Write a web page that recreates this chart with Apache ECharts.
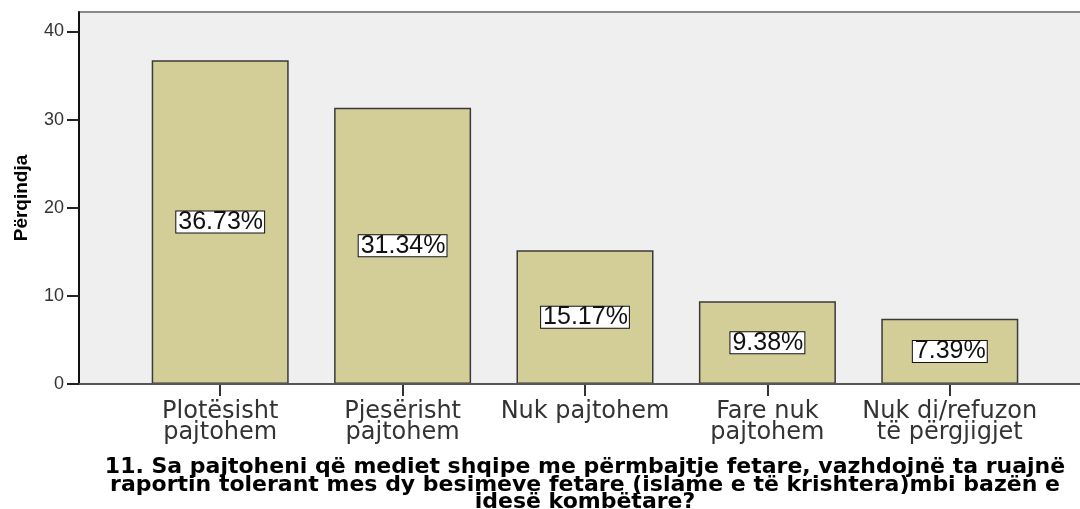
<!DOCTYPE html>
<html>
<head>
<meta charset="utf-8">
<title>Përqindja</title>
<script src="https://cdn.jsdelivr.net/npm/echarts@6/dist/echarts.min.js"></script>
<style>
  html, body { margin: 0; padding: 0; background: #fff; }
  #chart { width: 1080px; height: 509px; }
</style>
</head>
<body>
<div id="chart"></div>
<script>
// categories on the x axis
const categories = [
  'Plotësisht\npajtohem',
  'Pjesërisht\npajtohem',
  'Nuk pajtohem',
  'Fare nuk\npajtohem',
  'Nuk di/refuzon\ntë përgjigjet'
];
// percentages per category
const percentValues = [36.73, 31.34, 15.17, 9.38, 7.39];
// y axis tick labels
const yTicks = [0, 10, 20, 30, 40];

const yAxisName = 'Përqindja';
const xAxisName = '11. Sa pajtoheni që mediet shqipe me përmbajtje fetare, vazhdojnë ta ruajnë\n' +
  'raportin tolerant mes dy besimeve fetare (islame e të krishtera)mbi bazën e\n' +
  'idesë kombëtare?';

// plot frame geometry (pixels)
const frame = { left: 79, top: 12, bottom: 384, right: 1090 };

const chart = echarts.init(document.getElementById('chart'), null, { renderer: 'canvas' });

const option = {
  animation: false,
  backgroundColor: '#ffffff',
  grid: {
    left: 129,
    right: 39,
    top: frame.top,
    bottom: 509 - frame.bottom,
    // keep the grid where it is, the long axis name may overflow
    outerBoundsMode: 'none',
    containLabel: false
  },
  // grey panel behind the bars plus frame lines (SPSS look)
  graphic: [
    {
      type: 'rect',
      z: -10,
      shape: { x: frame.left, y: frame.top, width: frame.right - frame.left, height: frame.bottom - frame.top },
      style: { fill: '#efefef' }
    },
    {
      type: 'line',
      z: -5,
      shape: { x1: frame.left, y1: frame.top, x2: frame.right, y2: frame.top },
      style: { stroke: '#8a8a8a', lineWidth: 2 }
    },
    {
      type: 'line',
      z: 50,
      shape: { x1: frame.left, y1: frame.bottom, x2: frame.right, y2: frame.bottom },
      style: { stroke: '#555', lineWidth: 2 }
    }
  ],
  xAxis: {
    type: 'category',
    data: categories,
    name: xAxisName,
    nameLocation: 'middle',
    nameGap: 75,
    nameTextStyle: {
      fontFamily: 'DejaVu Sans',
      fontWeight: 'bold',
      fontSize: 22,
      lineHeight: 17.5,
      color: '#000',
      align: 'center'
    },
    axisLine: { show: false },
    axisTick: {
      show: true,
      alignWithLabel: true,
      length: 12,
      lineStyle: { color: '#333', width: 2 }
    },
    axisLabel: {
      margin: 17,
      fontFamily: 'DejaVu Sans',
      fontSize: 24,
      lineHeight: 21,
      color: '#333',
      interval: 0
    },
    splitLine: { show: false }
  },
  yAxis: {
    type: 'value',
    min: 0,
    max: 42.2,
    interval: 10,
    offset: 50,
    name: yAxisName,
    nameLocation: 'middle',
    nameGap: 48,
    nameRotate: 90,
    nameTextStyle: {
      fontFamily: 'Liberation Sans',
      fontWeight: 'bold',
      fontSize: 19,
      color: '#000'
    },
    axisLine: { show: true, lineStyle: { color: '#111', width: 2 } },
    axisTick: {
      show: true,
      length: 12,
      customValues: yTicks,
      lineStyle: { color: '#222', width: 2 }
    },
    axisLabel: {
      margin: 15,
      customValues: yTicks,
      fontFamily: 'Liberation Sans',
      fontSize: 18,
      color: '#333'
    },
    splitLine: { show: false }
  },
  series: [{
    type: 'bar',
    data: percentValues,
    barWidth: 137,
    itemStyle: {
      color: '#d3cd98',
      borderColor: '#3a3a3a',
      borderWidth: 1.5
    },
    label: {
      show: true,
      position: 'inside',
      formatter: (p) => p.value.toFixed(2) + '%',
      fontFamily: 'Liberation Sans',
      fontSize: 25,
      lineHeight: 20,
      color: '#111',
      backgroundColor: '#ffffff',
      borderColor: '#111',
      borderWidth: 1,
      padding: [1, 1, 0, 2]
    }
  }]
};

chart.setOption(option);
</script>
</body>
</html>
